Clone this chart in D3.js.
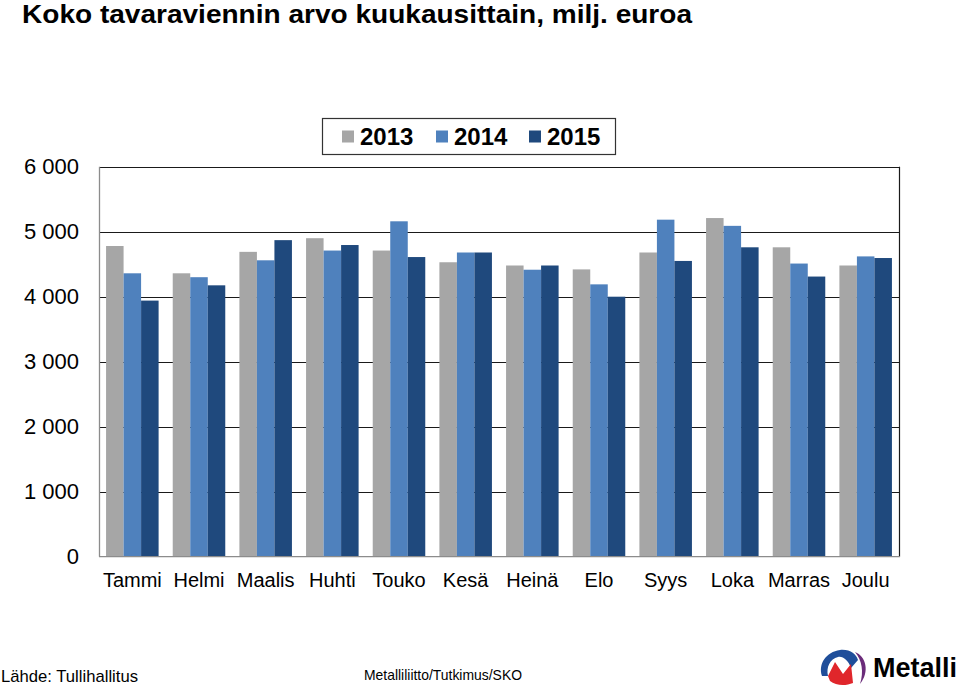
<!DOCTYPE html>
<html>
<head>
<meta charset="utf-8">
<script src="https://cdn.jsdelivr.net/npm/d3@7"></script>
<style>
  html, body { margin: 0; padding: 0; background: #fff; }
  svg { display: block; font-family: "Liberation Sans", Arial, sans-serif; }
</style>
</head>
<body>
<svg id="chart" width="960" height="686"></svg>
<script>
const months = ["Tammi","Helmi","Maalis","Huhti","Touko","Kesä","Heinä","Elo","Syys","Loka","Marras","Joulu"];
const seriesNames = ["2013","2014","2015"];
const values2013 = [4780, 4360, 4690, 4900, 4710, 4530, 4480, 4420, 4680, 5210, 4760, 4480];
const values2014 = [4360, 4300, 4560, 4710, 5160, 4680, 4415, 4190, 5185, 5090, 4510, 4620];
const values2015 = [3940, 4175, 4870, 4795, 4610, 4680, 4480, 4000, 4550, 4760, 4310, 4595];
const yTicks = [0, 1000, 2000, 3000, 4000, 5000, 6000];
const colors = ["#A6A6A6", "#4F81BD", "#1F497D"];

const seriesValues = [values2013, values2014, values2015];
const svg = d3.select("#chart");

const plot = { left: 99, right: 899, top: 166.7, bottom: 556.7 };

const x0 = d3.scaleBand().domain(months).range([plot.left, plot.right])
  .paddingInner(0.212).paddingOuter(0.106);
const x1 = d3.scaleBand().domain(seriesNames).range([0, x0.bandwidth()]).padding(0);
const y = d3.scaleLinear().domain([0, 6000]).range([plot.bottom, plot.top]);

// Title
svg.append("text")
  .attr("x", 22).attr("y", 23)
  .attr("font-size", 26).attr("font-weight", "bold")
  .attr("textLength", 670).attr("lengthAdjust", "spacingAndGlyphs")
  .text("Koko tavaraviennin arvo kuukausittain, milj. euroa");

// Gridlines
svg.append("g").selectAll("line")
  .data(yTicks.filter(d => d > 0))
  .join("line")
  .attr("x1", plot.left).attr("x2", plot.right + 1)
  .attr("y1", d => Math.round(y(d)) + 0.5).attr("y2", d => Math.round(y(d)) + 0.5)
  .attr("stroke", "#1a1a1a").attr("stroke-width", 1.2);

// Right border
svg.append("line")
  .attr("x1", plot.right + 0.5).attr("x2", plot.right + 0.5)
  .attr("y1", y(6000)).attr("y2", plot.bottom)
  .attr("stroke", "#1a1a1a").attr("stroke-width", 1.2);

// Bars
const data = months.map((m, i) => ({ month: m, vals: seriesNames.map((s, j) => ({ s, j, v: seriesValues[j][i] })) }));
const groups = svg.append("g").selectAll("g")
  .data(data).join("g")
  .attr("transform", d => `translate(${x0(d.month)},0)`);
groups.selectAll("rect")
  .data(d => d.vals).join("rect")
  .attr("x", d => x1(d.s))
  .attr("width", x1.bandwidth())
  .attr("y", d => y(d.v))
  .attr("height", d => y(0) - y(d.v))
  .attr("fill", d => colors[d.j]);

// Left and bottom axis lines
svg.append("line")
  .attr("x1", plot.left + 0.5).attr("x2", plot.left + 0.5)
  .attr("y1", y(6000)).attr("y2", plot.bottom)
  .attr("stroke", "#8c8c8c").attr("stroke-width", 1.3);
svg.append("line")
  .attr("x1", plot.left).attr("x2", plot.right + 1)
  .attr("y1", plot.bottom).attr("y2", plot.bottom)
  .attr("stroke", "#8c8c8c").attr("stroke-width", 1.3);

// Y axis labels
const fmt = d => d3.format(",")(d).replace(/,/g, " ");
svg.append("g").selectAll("text")
  .data(yTicks).join("text")
  .attr("x", 79).attr("y", d => y(d))
  .attr("dy", "0.35em")
  .attr("text-anchor", "end")
  .attr("font-size", 22)
  .attr("fill", "#000")
  .text(fmt);

// X axis labels
svg.append("g").selectAll("text")
  .data(months).join("text")
  .attr("x", d => x0(d) + x0.bandwidth() / 2)
  .attr("y", 587)
  .attr("text-anchor", "middle")
  .attr("font-size", 20)
  .text(d => d);

// Legend
const legend = svg.append("g");
legend.append("rect")
  .attr("x", 322.5).attr("y", 118.5).attr("width", 293).attr("height", 36)
  .attr("fill", "#fff").attr("stroke", "#333").attr("stroke-width", 1.2);
const legX = [342, 436, 529];
seriesNames.forEach((s, i) => {
  legend.append("rect")
    .attr("x", legX[i]).attr("y", 130.5).attr("width", 12).attr("height", 12)
    .attr("fill", colors[i]);
  legend.append("text")
    .attr("x", legX[i] + 18).attr("y", 144.5)
    .attr("font-size", 24).attr("font-weight", "bold")
    .text(s);
});

// Footer
svg.append("text")
  .attr("x", 1).attr("y", 682)
  .attr("font-size", 17)
  .attr("textLength", 137).attr("lengthAdjust", "spacingAndGlyphs")
  .text("Lähde: Tullihallitus");
svg.append("text")
  .attr("x", 364).attr("y", 680)
  .attr("font-size", 15)
  .attr("textLength", 158).attr("lengthAdjust", "spacingAndGlyphs")
  .text("Metalliliitto/Tutkimus/SKO");

// Logo
const logo = svg.append("g");
logo.append("path")
  .attr("d", "M822,676 C818,664 826,652 840,650 C850,649 856,654 858,660 L851,668 C848,660 843,656 838,657 C830,659 826,667 828,676 Z")
  .attr("fill", "#1F4E9A");
logo.append("path")
  .attr("d", "M828,676 L835,662 L843,674 L851,664 L853,683 C846,686 836,686 830,681 Z")
  .attr("fill", "#E0262B");
logo.append("path")
  .attr("d", "M855,652 C866,656 870,672 860,684 C864,672 862,660 855,652 Z")
  .attr("fill", "#6B2C7A");
logo.append("text")
  .attr("x", 873).attr("y", 677)
  .attr("font-size", 27).attr("font-weight", "bold")
  .text("Metalli");
</script>
</body>
</html>
